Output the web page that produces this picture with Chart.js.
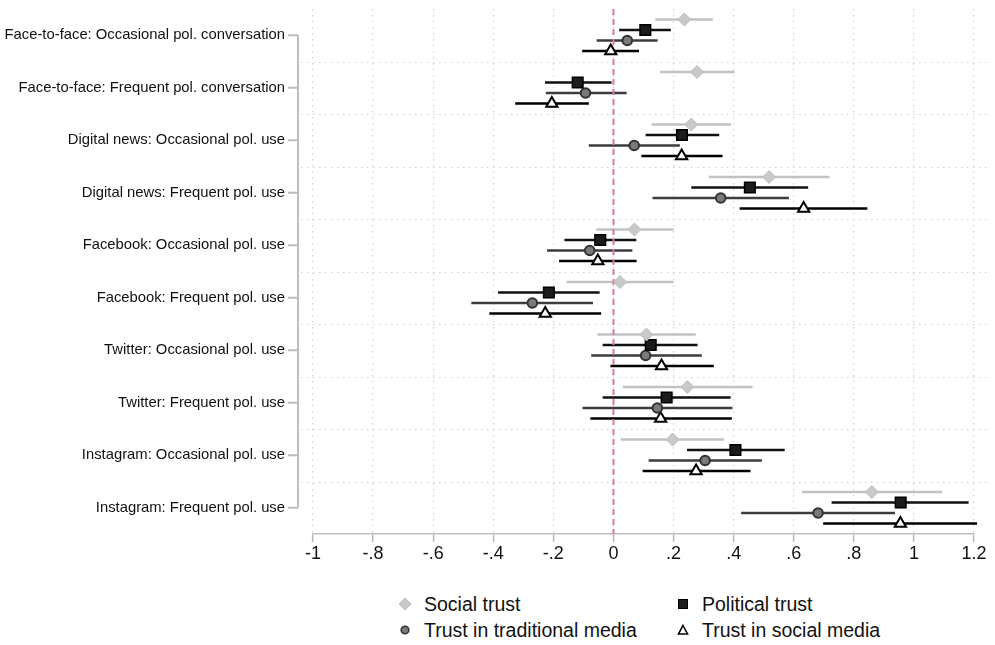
<!DOCTYPE html>
<html>
<head>
<meta charset="utf-8">
<script src="https://cdn.jsdelivr.net/npm/chart.js@4/dist/chart.umd.min.js"></script>
<style>
  body { margin: 0; background: #fff; font-family: "Liberation Sans", Arial, sans-serif; }
  #wrap { position: relative; width: 995px; height: 645px; }
  #chart { position: absolute; left: 0; top: 0; }
  .leg { position: absolute; font-size: 19.5px; color: #111; white-space: nowrap; line-height: 22px; }
  .leg svg { position: absolute; left: -26px; top: 4px; }
</style>
</head>
<body>
<div id="wrap">
  <canvas id="chart" width="995" height="574"></canvas>
  <div id="legend"></div>
</div>
<script>
const categories = [
  "Face-to-face: Occasional pol. conversation",
  "Face-to-face: Frequent pol. conversation",
  "Digital news: Occasional pol. use",
  "Digital news: Frequent pol. use",
  "Facebook: Occasional pol. use",
  "Facebook: Frequent pol. use",
  "Twitter: Occasional pol. use",
  "Twitter: Frequent pol. use",
  "Instagram: Occasional pol. use",
  "Instagram: Frequent pol. use"
];

const seriesNames = ["Social trust", "Political trust", "Trust in traditional media", "Trust in social media"];

// point estimates and 95% CI, one array per series
const socialEst = [0.236, 0.278, 0.259, 0.518, 0.070, 0.022, 0.110, 0.246, 0.197, 0.860];
const socialLo  = [0.139, 0.155, 0.127, 0.318, -0.057, -0.156, -0.053, 0.031, 0.024, 0.628];
const socialHi  = [0.331, 0.403, 0.391, 0.719, 0.200, 0.200, 0.274, 0.463, 0.368, 1.094];

const politicalEst = [0.106, -0.119, 0.228, 0.454, -0.044, -0.215, 0.124, 0.177, 0.406, 0.956];
const politicalLo  = [0.019, -0.228, 0.107, 0.259, -0.163, -0.384, -0.036, -0.036, 0.245, 0.726];
const politicalHi  = [0.191, -0.006, 0.352, 0.648, 0.076, -0.046, 0.280, 0.390, 0.570, 1.182];

const tradEst = [0.046, -0.093, 0.069, 0.357, -0.079, -0.270, 0.107, 0.146, 0.305, 0.681];
const tradLo  = [-0.056, -0.225, -0.082, 0.130, -0.221, -0.473, -0.074, -0.103, 0.117, 0.425];
const tradHi  = [0.147, 0.044, 0.221, 0.584, 0.063, -0.068, 0.294, 0.396, 0.494, 0.937];

const socmedEst = [-0.009, -0.205, 0.227, 0.633, -0.052, -0.227, 0.160, 0.157, 0.275, 0.955];
const socmedLo  = [-0.104, -0.327, 0.093, 0.420, -0.181, -0.413, -0.010, -0.077, 0.097, 0.698];
const socmedHi  = [0.085, -0.082, 0.363, 0.845, 0.077, -0.041, 0.334, 0.394, 0.456, 1.210];

const xTicks = [-1, -0.8, -0.6, -0.4, -0.2, 0, 0.2, 0.4, 0.6, 0.8, 1, 1.2];
const xTickLabels = ["-1", "-.8", "-.6", "-.4", "-.2", "0", ".2", ".4", ".6", ".8", "1", "1.2"];
const zeroLine = 0;

const FONT = '"Liberation Sans", Arial, sans-serif';

const styles = [
  { offset: -0.3, shape: "rectRot", radius: 6.5, fill: "#c9c9c9", edge: "#bdbdbd", bw: 1, line: "#c2c2c2" },
  { offset: -0.1, shape: "rect", radius: 7.5, fill: "#1c1c1c", edge: "#000", bw: 1.5, line: "#111" },
  { offset: 0.1, shape: "circle", radius: 4.8, fill: "#7a7a7a", edge: "#333", bw: 2, line: "#3c3c3c" },
  { offset: 0.3, shape: "triangle", radius: 6.5, fill: "#fff", edge: "#000", bw: 2, line: "#000" }
];
const estimates = [socialEst, politicalEst, tradEst, socmedEst];
const lows = [socialLo, politicalLo, tradLo, socmedLo];
const highs = [socialHi, politicalHi, tradHi, socmedHi];

const datasets = [];
estimates.forEach((est, s) => {
  const st = styles[s];
  const ci = [];
  categories.forEach((c, i) => {
    const y = i + 0.5 + st.offset;
    ci.push({ x: lows[s][i], y: y }, { x: highs[s][i], y: y }, { x: NaN, y: NaN });
  });
  datasets.push({
    type: "line", data: ci, borderColor: st.line, borderWidth: 2.4,
    pointRadius: 0, spanGaps: false, order: 2, clip: false
  });
  datasets.push({
    type: "scatter", label: seriesNames[s],
    data: est.map((v, i) => ({ x: v, y: i + 0.5 + st.offset })),
    pointStyle: st.shape, pointRadius: st.radius, backgroundColor: st.fill,
    borderColor: st.edge, borderWidth: st.bw, order: 0, clip: false
  });
});
datasets.push({
  type: "line", data: [{ x: zeroLine, y: 0 }, { x: zeroLine, y: categories.length }],
  borderColor: "#d47aab", borderWidth: 2, borderDash: [6, 4], pointRadius: 0, order: 1, clip: false
});

// y spine with ticks (offset from plot, like Stata) and dotted separators
const framePlugin = {
  id: "frame",
  beforeDatasetsDraw(chart) {
    const ctx = chart.ctx, area = chart.chartArea;
    const y = chart.scales.y, g = chart.scales.yGrid;
    ctx.save();
    ctx.strokeStyle = "#cfcfcf";
    ctx.lineWidth = 1.2;
    ctx.setLineDash([1.5, 4.5]);
    g.ticks.forEach(t => {
      const py = Math.round(g.getPixelForValue(t.value)) + 0.5;
      ctx.beginPath();
      ctx.moveTo(area.left - 12, py);
      ctx.lineTo(area.right + 16, py);
      ctx.stroke();
    });
    ctx.setLineDash([]);
    ctx.strokeStyle = "#bdbdbd";
    ctx.lineWidth = 2;
    const sx = area.left - 15;
    const top = y.getPixelForValue(0.5), bot = y.getPixelForValue(categories.length - 0.5);
    ctx.beginPath();
    ctx.moveTo(sx, top);
    ctx.lineTo(sx, bot);
    categories.forEach((c, i) => {
      const py = y.getPixelForValue(i + 0.5);
      ctx.moveTo(sx, py);
      ctx.lineTo(sx - 10, py);
    });
    ctx.stroke();
    ctx.restore();
  }
};

new Chart(document.getElementById("chart"), {
  type: "scatter",
  data: { datasets: datasets },
  options: {
    responsive: false,
    animation: false,
    layout: { padding: { top: 6, right: 21, bottom: 0, left: 0 } },
    plugins: { legend: { display: false }, tooltip: { enabled: false } },
    scales: {
      x: {
        type: "linear", min: -1, max: 1.2,
        afterBuildTicks: s => { s.ticks = xTicks.map(v => ({ value: v })); },
        afterFit: s => { s.height = 40; },
        ticks: {
          callback: (v, i) => xTickLabels[i],
          font: { family: FONT, size: 18 }, color: "#111", padding: 1, maxRotation: 0, autoSkip: false
        },
        grid: {
          color: "#d2d2d2", lineWidth: 1.2, tickColor: "#b5b5b5", tickLength: 8, tickWidth: 1.5,
          tickBorderDash: []
        },
        border: { display: true, color: "#bdbdbd", width: 1.5, dash: [1.5, 4.5] }
      },
      y: {
        type: "linear", min: 0, max: categories.length, reverse: true, position: "left",
        afterBuildTicks: s => { s.ticks = categories.map((c, i) => ({ value: i + 0.5 })); },
        afterFit: s => { s.width = 313; s.paddingTop = 0; s.paddingBottom = 0; },
        ticks: {
          callback: (v) => categories[Math.floor(v)],
          font: { family: FONT, size: 14.8 }, color: "#111", padding: 28, autoSkip: false
        },
        grid: { display: false, drawTicks: false },
        border: { display: false }
      },
      yGrid: {
        type: "linear", min: 0, max: categories.length, reverse: true, position: "right",
        afterBuildTicks: s => { s.ticks = categories.slice(1).map((c, i) => ({ value: i + 1 })); },
        afterFit: s => { s.width = 0; s.paddingTop = 0; s.paddingBottom = 0; },
        ticks: { display: false },
        grid: { display: false, drawTicks: false },
        border: { display: false }
      }
    }
  },
  plugins: [framePlugin]
});

// legend, two columns like the original
const legendPos = [
  { left: 424, top: 593 }, { left: 702, top: 593 },
  { left: 424, top: 619 }, { left: 702, top: 619 }
];
const legendIcons = [
  '<svg width="14" height="14"><polygon points="7,1 13,7 7,13 1,7" fill="#c9c9c9" stroke="#bdbdbd" stroke-width="1"/></svg>',
  '<svg width="14" height="14"><rect x="2.5" y="2.5" width="9" height="9" fill="#1c1c1c" stroke="#000" stroke-width="1"/></svg>',
  '<svg width="14" height="14"><circle cx="7" cy="7" r="3.8" fill="#7a7a7a" stroke="#333" stroke-width="1.6"/></svg>',
  '<svg width="14" height="14"><polygon points="7,2.5 11.5,11 2.5,11" fill="#fff" stroke="#000" stroke-width="1.6"/></svg>'
];
const legendDiv = document.getElementById("legend");
seriesNames.forEach((name, i) => {
  const d = document.createElement("div");
  d.className = "leg";
  d.style.left = legendPos[i].left + "px";
  d.style.top = legendPos[i].top + "px";
  d.innerHTML = legendIcons[i] + name;
  legendDiv.appendChild(d);
});
</script>
</body>
</html>
